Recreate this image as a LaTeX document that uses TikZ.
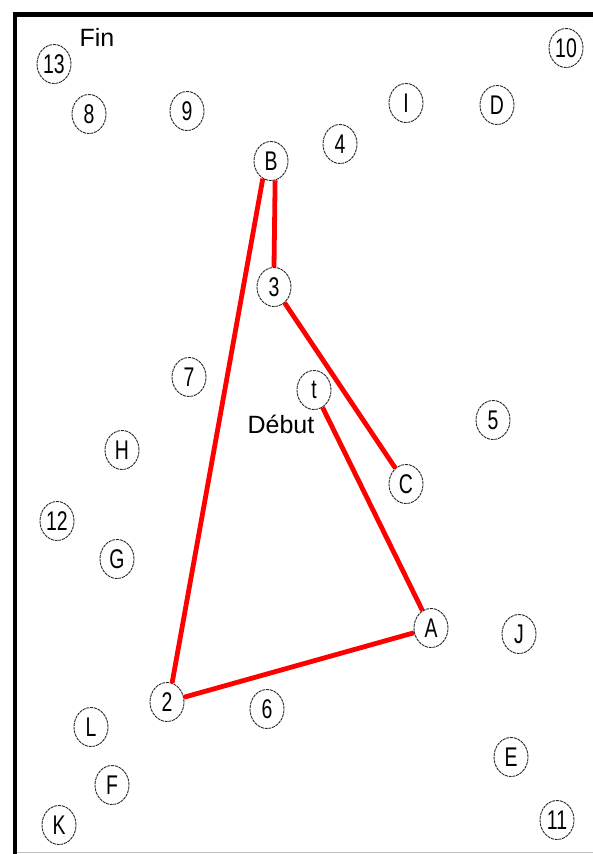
\documentclass[tikz,border=0pt]{standalone}
\usepackage{fontspec}
\setmainfont{Liberation Sans}
\newfontfamily\circfont[FakeStretch=0.72]{Liberation Sans}
\usetikzlibrary{shapes.geometric}
\begin{document}
\begin{tikzpicture}[x=1pt,y=-1pt,
  pt/.style={ellipse,draw=black!85,line width=0.9pt,dash pattern=on 3pt off 0.8pt,
    minimum width=34pt,minimum height=39pt,inner sep=0pt,
    font=\circfont\fontsize{27}{27}\selectfont},
  lbl/.style={font=\fontsize{25}{25}\selectfont,inner sep=0pt},
  path/.style={draw=red,line width=4.8pt}]
\useasboundingbox (0,0) rectangle (593,854);
\fill[white] (0,0) rectangle (593,854);
% border
\draw[line width=4.5pt] (12.5,14.5) -- (593,14.5);
\draw[line width=4pt] (14.5,12.5) -- (14.5,854);
\draw[black!25,line width=1.5pt] (16.5,852.5) -- (593,852.5);
% points
\node[pt] (p13) at (54,64) {13};
\node[pt] (p8) at (89,114) {8};
\node[pt] (p9) at (187,111) {9};
\node[pt] (pB) at (271,161) {B};
\node[pt] (p4) at (340,144) {4};
\node[pt] (pI) at (406,103) {I};
\node[pt] (pD) at (497,105) {D};
\node[pt] (p10) at (566,48) {10};
\node[pt] (p3) at (274,287) {3};
\node[pt] (p7) at (189,377) {7};
\node[pt] (pt1) at (314,390) {t};
\node[pt] (p5) at (493,420) {5};
\node[pt] (pH) at (122,450) {H};
\node[pt] (pC) at (406,484) {C};
\node[pt] (p12) at (57,521) {12};
\node[pt] (pG) at (117,559) {G};
\node[pt] (pA) at (431,628) {A};
\node[pt] (pJ) at (519,634) {J};
\node[pt] (p2) at (167,702) {2};
\node[pt] (p6) at (267,709) {6};
\node[pt] (pL) at (91,727) {L};
\node[pt] (pE) at (511,757) {E};
\node[pt] (pF) at (112,785) {F};
\node[pt] (pK) at (59,825) {K};
\node[pt] (p11) at (557,820) {11};
% labels
\node[lbl] (fin) at (97,37) {Fin};
\node[lbl] (debut) at (281,424) {Début};
% red path
\draw[path] (pB.-78) -- (p3.north);
\draw[path] (p3) -- (pC);
\draw[path] (pB.-115) -- (p2.75);
\draw[path] (p2) -- (pA);
\draw[path] (pA) -- (pt1);
\end{tikzpicture}
\end{document}
